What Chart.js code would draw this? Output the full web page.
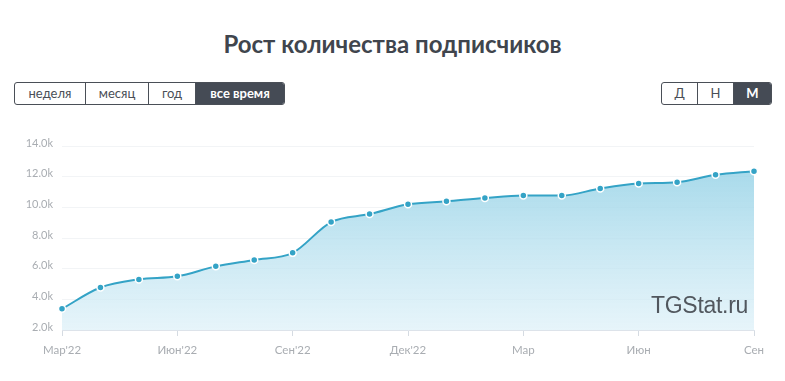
<!DOCTYPE html>
<html>
<head>
<meta charset="utf-8">
<script src="https://cdn.jsdelivr.net/npm/chart.js@4"></script>
<style>
  body { margin: 0; background: #fff; font-family: "Lato", "Open Sans", sans-serif; }
  .wrap { position: relative; width: 785px; height: 381px; overflow: hidden; }
  .title { position: absolute; top: 29px; left: 0; width: 785px; text-align: center; font-size: 24px; font-weight: bold; color: #40454d; }
  .group { position: absolute; top: 82px; display: flex; border: 1px solid #4a4f57; border-radius: 3px; overflow: hidden; height: 21px; }
  .group div { font-size: 13px; color: #4a4f57; line-height: 21px; text-align: center; border-left: 1px solid #4a4f57; }
  .group div:first-child { border-left: none; }
  .group div.active { background: #454b55; color: #fff; font-weight: bold; }
  .chart-box { position: absolute; left: 0; top: 130px; width: 785px; height: 240px; }
  .mark { position: absolute; left: 651px; top: 292px; font-family: "Liberation Sans", sans-serif; font-size: 23px; color: #51575e; letter-spacing: -0.3px; }
</style>
</head>
<body>
<div class="wrap">
  <div class="title">Рост количества подписчиков</div>
  <div class="group" style="left:14px">
    <div style="width:70px">неделя</div>
    <div style="width:62px">месяц</div>
    <div style="width:46px">год</div>
    <div style="width:88px" class="active">все время</div>
  </div>
  <div class="group" style="left:661px">
    <div style="width:35px">Д</div>
    <div style="width:35px">Н</div>
    <div style="width:37px" class="active">М</div>
  </div>
  <div class="chart-box"><canvas id="chart"></canvas></div>
  <div class="mark">TGStat.ru</div>
</div>
<script>
  const months = ["Мар'22", "Апр'22", "Май'22", "Июн'22", "Июл'22", "Авг'22", "Сен'22", "Окт'22", "Ноя'22", "Дек'22",
    "Янв", "Фев", "Мар", "Апр", "Май", "Июн", "Июл", "Авг", "Сен"]
  const subscribers = [3380, 4770, 5300, 5500, 6150, 6570, 7030, 9040, 9560, 10200,
    10390, 10610, 10770, 10770, 11230, 11550, 11640, 12120, 12360]
  const yTicks = [2000, 4000, 6000, 8000, 10000, 12000, 14000]

  const ctx = document.getElementById('chart').getContext('2d')

  const fillGradient = ctx.createLinearGradient(0, 16, 0, 200)
  fillGradient.addColorStop(0, 'rgba(140, 206, 228, 0.85)')
  fillGradient.addColorStop(1, 'rgba(220, 240, 248, 0.7)')

  new Chart(ctx, {
    type: 'line',
    data: {
      labels: months,
      datasets: [{
        data: subscribers,
        borderColor: '#34a3c6',
        borderWidth: 2,
        backgroundColor: fillGradient,
        fill: 'start',
        cubicInterpolationMode: 'monotone',
        pointRadius: 3.5,
        pointBackgroundColor: '#34a3c6',
        pointBorderColor: '#fff',
        pointBorderWidth: 1.5
      }]
    },
    options: {
      responsive: true,
      maintainAspectRatio: false,
      animation: false,
      layout: { padding: { top: 16, right: 31, left: 0, bottom: 0 } },
      plugins: { legend: { display: false }, tooltip: { enabled: false } },
      scales: {
        x: {
          afterFit: (scale) => { scale.height = 40 },
          border: { color: '#dde3ea' },
          grid: {
            drawOnChartArea: false,
            tickLength: 6,
            color: (c) => (c.index % 3 === 0 ? '#d5dbe2' : 'rgba(0,0,0,0)')
          },
          ticks: {
            autoSkip: false,
            maxRotation: 0,
            color: '#a9adb2',
            font: { size: 11.5, family: 'Lato' },
            padding: 7,
            callback: function(value, index) {
              return index % 3 === 0 ? months[index] : ''
            }
          }
        },
        y: {
          min: 2000,
          max: 14000,
          afterFit: (scale) => { scale.width = 62 },
          afterBuildTicks: (scale) => { scale.ticks = yTicks.map(v => ({ value: v })) },
          border: { display: false },
          grid: { color: '#f2f4f6', tickLength: 0 },
          ticks: {
            color: '#a9adb2',
            font: { size: 11, family: 'Lato' },
            padding: 9,
            labelOffset: -3,
            callback: (v) => (v / 1000).toFixed(1) + 'k'
          }
        }
      }
    }
  })
</script>
</body>
</html>
